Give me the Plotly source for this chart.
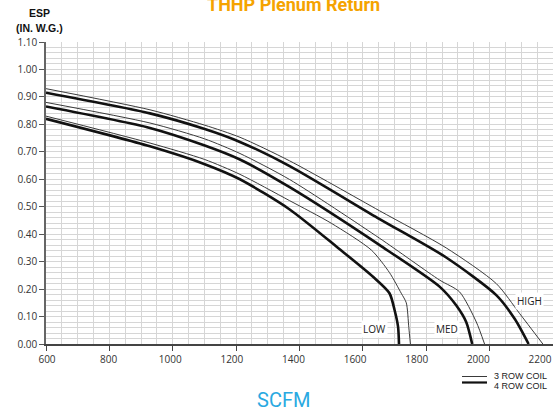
import plotly.graph_objects as go

# ---- data ----
x_ticks = [600, 800, 1000, 1200, 1400, 1600, 1800, 2000, 2200]
y_ticks = [0.0, 0.1, 0.2, 0.3, 0.4, 0.5, 0.6, 0.7, 0.8, 0.9, 1.0, 1.1]
y_tick_labels = ["0.00", "0.10", "0.20", "0.30", "0.40", "0.50", "0.60", "0.70", "0.80", "0.90", "1.00", "1.10"]

high_3row_cfm = [600, 928, 1101, 1212, 1369, 1653, 1863, 2021, 2094, 2168]
high_3row_esp = [0.93, 0.853, 0.797, 0.753, 0.667, 0.485, 0.35, 0.22, 0.112, 0.0]
high_4row_cfm = [600, 928, 1101, 1212, 1369, 1653, 1863, 2021, 2080, 2123]
high_4row_esp = [0.915, 0.84, 0.783, 0.736, 0.648, 0.455, 0.315, 0.178, 0.09, 0.0]

med_3row_cfm = [600, 928, 1101, 1212, 1369, 1653, 1842, 1905, 1958, 1984]
med_3row_esp = [0.88, 0.805, 0.747, 0.694, 0.599, 0.385, 0.233, 0.19, 0.08, 0.0]
med_4row_cfm = [600, 928, 1101, 1212, 1369, 1653, 1842, 1895, 1926, 1945]
med_4row_esp = [0.865, 0.787, 0.723, 0.672, 0.571, 0.36, 0.209, 0.14, 0.08, 0.0]

low_3row_cfm = [600, 928, 1101, 1212, 1369, 1500, 1627, 1684, 1721, 1737, 1745, 1750]
low_3row_esp = [0.83, 0.732, 0.672, 0.618, 0.522, 0.44, 0.342, 0.26, 0.185, 0.15, 0.06, 0.0]
low_4row_cfm = [600, 928, 1101, 1212, 1369, 1527, 1632, 1684, 1700, 1711, 1714]
low_4row_esp = [0.82, 0.72, 0.655, 0.60, 0.49, 0.345, 0.245, 0.185, 0.124, 0.063, 0.0]

speed_labels = ["LOW", "MED", "HIGH"]
speed_label_cfm = [1637, 1864, 2126]
speed_label_esp = [0.056, 0.056, 0.158]

legend_labels = ["3 ROW COIL", "4 ROW COIL"]

THIN = dict(color="#3a3a3a", width=1)
THICK = dict(color="#111111", width=2.6)

fig = go.Figure()

curves = [
    (high_3row_cfm, high_3row_esp, THIN),
    (high_4row_cfm, high_4row_esp, THICK),
    (med_3row_cfm, med_3row_esp, THIN),
    (med_4row_cfm, med_4row_esp, THICK),
    (low_3row_cfm, low_3row_esp, THIN),
    (low_4row_cfm, low_4row_esp, THICK),
]
for cx, cy, ln in curves:
    fig.add_trace(go.Scatter(x=cx, y=cy, mode="lines",
                             line=dict(shape="spline", smoothing=0.7, **ln),
                             showlegend=False, hoverinfo="skip"))

# invisible trace that carries the tick-label axis
fig.add_trace(go.Scatter(x=x_ticks, y=[0] * len(x_ticks), xaxis="x2", mode="markers",
                         marker=dict(opacity=0), showlegend=False, hoverinfo="skip"))

for name, cx, cy in zip(speed_labels, speed_label_cfm, speed_label_esp):
    fig.add_annotation(x=cx, y=cy, text=name, showarrow=False,
                       font=dict(family="Open Sans", size=10, color="#222222"),
                       bgcolor="white")

W, H = 553, 413
L, R, T, B = 46, 0, 42, 69
pw, ph = W - L - R, H - T - B   # 507 x 302


def px(xp):  # reference pixel x -> paper
    return (xp - L) / pw


def py(yp):  # reference pixel y -> paper
    return (H - B - yp) / ph


# legend (manual)
fig.add_shape(type="line", xref="paper", yref="paper", x0=px(462), x1=px(487),
              y0=py(376.5), y1=py(376.5), line=THIN)
fig.add_shape(type="line", xref="paper", yref="paper", x0=px(462), x1=px(487),
              y0=py(382.5), y1=py(382.5), line=dict(color="#111111", width=2.2))
for lbl, yy in zip(legend_labels, [375.5, 385.5]):
    fig.add_annotation(xref="paper", yref="paper", x=px(492), y=py(yy), text=lbl,
                       xanchor="left", yanchor="middle", showarrow=False,
                       font=dict(family="Liberation Sans", size=9, color="#222222"))

# titles
fig.add_annotation(xref="paper", yref="paper", x=px(293), y=py(4), text="<b>THHP Plenum Return</b>",
                   xanchor="center", yanchor="middle", showarrow=False,
                   font=dict(family="Roboto", size=18, color="#f5a300"))
fig.add_annotation(xref="paper", yref="paper", x=px(39), y=py(13), text="<b>ESP</b>",
                   xanchor="center", yanchor="middle", showarrow=False,
                   font=dict(family="Liberation Sans", size=10.5, color="#111111"))
fig.add_annotation(xref="paper", yref="paper", x=px(39), y=py(28), text="<b>(IN. W.G.)</b>",
                   xanchor="center", yanchor="middle", showarrow=False,
                   font=dict(family="Liberation Sans", size=10.5, color="#111111"))
fig.add_annotation(xref="paper", yref="paper", x=px(283), y=py(400), text="SCFM",
                   xanchor="center", yanchor="middle", showarrow=False,
                   font=dict(family="Roboto", size=20, color="#29a9e1"))

GRID = "#d6d6d6"
fig.update_layout(
    width=W, height=H,
    margin=dict(l=L, r=R, t=T, b=B, pad=0),
    paper_bgcolor="white", plot_bgcolor="white",
    xaxis=dict(range=[600, 2200], tickvals=x_ticks, showticklabels=False,
               ticks="outside", ticklen=5, tickcolor="#444444", tickwidth=1,
               showline=True, linecolor="#444444", linewidth=1.5,
               showgrid=True, gridcolor=GRID, gridwidth=1, zeroline=False,
               minor=dict(dtick=50, tick0=600, showgrid=True, gridcolor=GRID, gridwidth=1, ticks="")),
    xaxis2=dict(overlaying="x", side="bottom",
                range=[600 + (46 - 47) / 0.3081, 600 + (553 - 47) / 0.3081],
                tickvals=x_ticks, ticktext=[str(v) for v in x_ticks],
                showgrid=False, showline=False, zeroline=False, ticks="",
                tickfont=dict(family="Open Sans", size=10, color="#333333"),
                ticklabelstandoff=8),
    yaxis=dict(range=[0, 1.1], tickvals=y_ticks, ticktext=y_tick_labels,
               ticks="outside", ticklen=5, tickcolor="#555555", tickwidth=1,
               showline=True, linecolor="#666666", linewidth=1.5,
               showgrid=True, gridcolor=GRID, gridwidth=1, zeroline=False,
               tickfont=dict(family="Open Sans", size=10, color="#333333"),
               minor=dict(dtick=0.02, tick0=0, showgrid=True, gridcolor=GRID, gridwidth=1, ticks="")),
)

fig.write_html("out.html", config={"displayModeBar": False},
               post_script="document.body.style.margin='0';document.body.style.overflow='hidden';")
